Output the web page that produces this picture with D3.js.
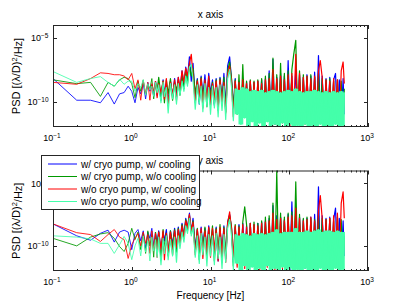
<!DOCTYPE html>
<html>
<head>
<meta charset="utf-8">
<script src="https://cdn.jsdelivr.net/npm/d3@7"></script>
<style>
  body { margin: 0; background: #fff; }
  text { font-family: "Liberation Sans", Arial, sans-serif; fill: #000; }
</style>
</head>
<body>
<div id="viewer"></div>
<script>
// frequency grid (Hz), shared by every series
const freq = [
  0.1, 0.2, 0.3, 0.4, 0.5, 0.6, 0.7, 0.8, 0.9, 1.0,
  1.1, 1.2, 1.3, 1.4, 1.5, 1.6, 1.7, 1.8, 1.9, 2.0,
  2.1, 2.2, 2.35, 2.5, 2.6, 2.75, 2.9, 3.1, 3.3, 3.5,
  3.7, 3.9, 4.1, 4.35, 4.6, 4.85, 5.1, 5.4, 5.7, 6.0,
  6.4, 6.8, 7.2, 7.6, 8.0, 8.5, 9.0, 9.5, 10, 10.6,
  11.2, 11.8, 12.5, 13.2, 14, 14.8, 15.6, 16.5, 17.5, 18.5,
  19.5, 20.6, 21.8, 23, 24.3, 25.7, 27.2, 28.7, 30.3, 32,
  33.8, 35.7, 37.7, 39.9, 42.2, 44.6, 47.1, 49.8, 52.6, 55.6,
  58.8, 62.1, 65.7, 69.4, 73.4, 77.6, 82, 86.7, 91.6, 96.8,
  102, 108, 114, 121, 128, 135, 143, 151, 159, 168,
  178, 188, 199, 210, 222, 235, 248, 262, 277, 293,
  310, 327, 346, 366, 387, 409, 432, 457, 483, 500
];

// log10 of PSD, x axis panel
const xBlue = [
  -8.2, -9.9, -9.9, -10.1, -9.3, -10.2, -9.4, -9.3, -8.8, -9.2,
  -10.1, -8.9, -9.4, -8.6, -9.8, -8.5, -9.2, -8.7, -9.6, -8.4,
  -9.5, -8.5, -9.9, -8.3, -9.3, -8.6, -10.0, -8.4, -9.6, -8.2,
  -9.7, -8.1, -9.2, -7.6, -8.8, -7.3, -8.2, -6.5, -8.4, -7.0,
  -9.8, -8.2, -10.2, -8.0, -9.6, -7.9, -10.0, -7.8, -9.4, -8.3,
  -10.3, -8.2, -10.6, -8.1, -9.8, -7.8, -10.4, -7.2, -6.5, -8.3,
  -10.5, -8.2, -10.9, -8.4, -11.2, -8.3, -10.8, -8.5, -11.5, -8.4,
  -11.0, -8.5, -11.8, -8.4, -11.2, -8.3, -11.6, -8.2, -11.0, -7.6,
  -11.4, -6.7, -11.8, -8.1, -11.3, -7.8, -11.5, -8.0, -11.9, -6.8,
  -11.2, -8.0, -11.6, -7.4, -11.0, -7.9, -11.7, -8.1, -11.3, -7.9,
  -11.8, -8.0, -11.4, -7.7, -11.6, -6.4, -11.2, -8.0, -11.7, -8.2,
  -11.5, -8.1, -11.8, -8.3, -7.8, -11.6, -8.3, -11.4, -8.2, -11.0
];
const xGreen = [
  -8.3, -8.6, -8.5, -9.6, -8.5, -8.8, -8.3, -8.1, -8.2, -8.6,
  -9.7, -8.4, -9.2, -8.3, -9.5, -8.7, -9.0, -8.2, -9.8, -8.5,
  -9.2, -8.1, -9.6, -8.4, -10.1, -8.3, -9.4, -8.2, -9.9, -8.5,
  -9.1, -8.3, -9.5, -8.0, -9.0, -7.5, -8.6, -7.2, -8.0, -7.4,
  -9.4, -8.3, -10.0, -8.1, -9.8, -8.4, -10.4, -8.2, -9.6, -8.5,
  -10.2, -8.3, -10.5, -8.2, -10.0, -8.1, -10.8, -7.6, -6.9, -8.2,
  -10.6, -8.3, -11.0, -7.9, -11.4, -7.1, -10.9, -8.4, -11.6, -8.3,
  -11.1, -8.4, -11.9, -8.3, -11.0, -8.2, -11.7, -8.0, -11.2, -7.8,
  -11.8, -6.6, -11.4, -7.9, -11.9, -7.0, -11.5, -7.8, -11.7, -7.6,
  -11.3, -7.5, -6.3, -5.2, -11.6, -7.6, -11.8, -7.9, -11.2, -8.0,
  -11.7, -7.9, -11.5, -8.1, -11.9, -7.8, -11.3, -8.2, -11.6, -8.3,
  -11.9, -8.2, -11.4, -8.4, -11.7, -8.3, -11.5, -8.4, -11.8, -9.0
];
const xRed = [
  -8.5, -8.65, -8.2, -7.75, -7.8, -7.9, -7.9, -8.0, -8.3, -7.8,
  -9.0, -8.3, -9.9, -8.4, -9.4, -8.5, -9.9, -8.6, -9.2, -8.4,
  -9.7, -8.6, -9.3, -8.4, -9.8, -8.2, -10.2, -8.5, -9.5, -8.3,
  -9.9, -8.1, -9.0, -7.6, -8.5, -7.4, -8.0, -7.0, -6.3, -8.0,
  -10.1, -8.4, -9.7, -8.2, -10.5, -8.3, -9.9, -8.0, -10.3, -8.6,
  -9.8, -8.4, -10.7, -8.3, -10.1, -8.5, -10.9, -7.9, -7.2, -8.5,
  -11.2, -8.4, -10.6, -8.5, -11.5, -8.3, -11.0, -8.6, -11.9, -8.4,
  -11.3, -8.5, -11.7, -8.4, -11.1, -8.6, -11.9, -8.3, -11.4, -8.2,
  -11.6, -7.5, -11.8, -8.2, -11.2, -8.0, -11.7, -8.3, -11.4, -7.9,
  -11.9, -7.8, -11.1, -6.3, -11.6, -7.8, -11.3, -8.1, -11.8, -8.0,
  -11.4, -8.2, -11.7, -8.0, -11.5, -7.6, -6.8, -8.1, -11.8, -8.3,
  -11.2, -8.4, -11.6, -8.2, -11.4, -8.3, -11.9, -7.6, -6.9, -8.6
];
const xMint = [
  -7.65, -8.5, -8.2, -8.05, -8.5, -8.8, -8.25, -8.65, -8.4, -8.4,
  -9.2, -8.6, -8.9, -8.3, -9.5, -8.6, -9.1, -8.8, -9.6, -8.5,
  -9.3, -8.7, -10.1, -8.5, -9.6, -8.9, -10.9, -8.6, -9.8, -8.7,
  -10.2, -8.6, -9.5, -8.4, -9.2, -8.0, -8.8, -7.3, -7.1, -8.3,
  -10.6, -8.7, -10.2, -8.8, -10.8, -8.6, -10.4, -8.9, -11.0, -8.8,
  -10.5, -8.9, -11.2, -8.7, -10.7, -8.8, -11.4, -8.2, -7.5, -8.9,
  -11.5, -9.0, -11.0, -9.1, -11.8, -8.9, -11.3, -9.0, -12.0, -9.2,
  -11.6, -9.1, -12.0, -9.2, -11.7, -9.1, -12.0, -9.3, -11.6, -9.2,
  -12.0, -9.1, -11.8, -9.2, -12.0, -9.3, -11.7, -9.2, -12.0, -9.1,
  -11.8, -9.2, -12.0, -9.0, -11.9, -9.2, -12.0, -9.3, -11.8, -9.2,
  -12.0, -9.2, -11.9, -9.1, -12.0, -9.2, -11.8, -9.3, -12.0, -9.2,
  -11.9, -9.3, -12.0, -9.2, -11.8, -9.3, -12.0, -9.2, -11.9, -9.3
];

// log10 of PSD, y axis panel
const yBlue = [
  -8.25, -9.2, -9.55, -9.0, -8.75, -9.7, -8.9, -8.75, -8.9, -10.3,
  -9.0, -8.7, -9.6, -8.8, -10.2, -8.9, -9.4, -8.6, -10.0, -9.0,
  -9.8, -8.8, -10.4, -8.9, -9.6, -8.7, -10.7, -8.8, -9.9, -8.6,
  -10.3, -8.5, -9.6, -8.2, -9.2, -7.8, -8.6, -7.4, -8.9, -7.8,
  -10.2, -8.7, -10.8, -8.5, -10.1, -8.6, -10.6, -8.4, -10.3, -8.7,
  -10.9, -8.5, -11.2, -8.6, -10.5, -8.4, -11.0, -8.1, -7.5, -8.6,
  -11.3, -8.5, -10.8, -8.3, -11.6, -8.2, -11.1, -8.4, -11.9, -8.2,
  -11.4, -8.3, -11.8, -8.2, -11.2, -8.1, -11.7, -8.0, -11.3, -7.8,
  -11.9, -6.8, -11.5, -7.6, -11.8, -7.7, -11.2, -7.9, -11.6, -7.5,
  -11.9, -6.5, -11.4, -7.2, -11.7, -7.7, -11.3, -7.9, -11.8, -7.8,
  -11.5, -7.7, -11.9, -7.5, -11.4, -5.3, -11.7, -7.6, -11.2, -7.8,
  -11.8, -7.7, -11.5, -7.9, -7.0, -11.6, -7.8, -11.4, -8.0, -10.8
];
const yGreen = [
  -9.4, -10.0, -9.3, -9.05, -8.95, -9.4, -10.05, -10.45, -9.8, -8.6,
  -9.5, -8.9, -10.3, -9.0, -10.6, -8.8, -10.0, -9.1, -10.9, -8.9,
  -10.2, -8.9, -11.0, -8.7, -10.4, -9.0, -10.8, -8.8, -10.1, -8.7,
  -10.5, -8.6, -9.8, -8.3, -9.4, -7.9, -8.8, -7.6, -9.0, -8.0,
  -10.5, -8.6, -11.1, -8.8, -10.3, -8.5, -10.9, -8.6, -10.1, -8.4,
  -11.2, -8.6, -10.6, -8.3, -11.3, -8.5, -10.8, -8.2, -7.6, -8.5,
  -11.6, -8.3, -11.0, -8.4, -11.9, -8.1, -6.9, -8.3, -12.0, -8.2,
  -11.5, -8.1, -11.9, -8.2, -11.3, -8.0, -11.8, -7.7, -11.4, -7.6,
  -11.9, -6.6, -11.6, -4.0, -11.8, -7.4, -11.3, -7.7, -11.9, -7.4,
  -11.5, -7.3, -11.8, -4.9, -11.4, -7.5, -11.7, -7.8, -11.5, -7.7,
  -11.9, -7.8, -11.4, -7.9, -11.7, -7.6, -11.5, -7.8, -11.9, -7.9,
  -11.3, -7.8, -11.7, -8.0, -11.5, -7.7, -11.8, -7.9, -11.6, -9.2
];
const yRed = [
  -8.25, -8.95, -9.1, -9.65, -9.1, -8.7, -9.3, -9.5, -11.0, -9.9,
  -9.4, -9.0, -10.0, -8.9, -9.8, -9.1, -10.6, -8.8, -10.2, -9.0,
  -10.9, -8.9, -10.3, -8.8, -11.1, -9.0, -10.5, -8.9, -10.7, -8.8,
  -10.1, -8.7, -9.9, -8.4, -9.3, -8.0, -8.6, -7.5, -8.8, -8.1,
  -10.7, -8.7, -10.3, -8.6, -11.0, -8.8, -10.5, -8.5, -10.9, -8.6,
  -10.4, -8.7, -11.2, -8.5, -10.7, -8.6, -11.3, -8.2, -7.3, -8.7,
  -11.0, -8.4, -11.7, -8.5, -11.2, -8.3, -11.8, -8.5, -12.0, -8.2,
  -11.6, -8.3, -11.2, -8.4, -11.9, -8.2, -11.4, -8.1, -11.7, -8.0,
  -11.3, -7.4, -11.9, -7.9, -11.5, -7.8, -11.8, -8.0, -11.2, -7.7,
  -11.7, -7.6, -11.4, -7.0, -11.9, -7.8, -11.5, -8.0, -11.3, -7.9,
  -11.8, -7.7, -11.6, -8.0, -11.9, -7.2, -6.0, -7.8, -11.4, -7.9,
  -11.7, -7.8, -11.9, -7.6, -11.5, -7.4, -11.8, -6.6, -5.7, -7.8
];
const yMint = [
  -9.2, -9.3, -9.45, -9.8, -9.8, -10.6, -9.9, -9.25, -9.8, -11.1,
  -10.0, -9.4, -10.8, -9.2, -10.5, -9.6, -11.2, -9.3, -10.4, -9.5,
  -10.9, -9.3, -11.5, -9.4, -10.6, -9.2, -11.1, -9.5, -10.8, -9.3,
  -11.3, -9.2, -10.2, -8.9, -9.7, -8.4, -9.0, -7.8, -9.2, -8.5,
  -10.9, -9.2, -11.4, -9.0, -10.7, -9.3, -11.6, -9.1, -10.8, -9.2,
  -11.5, -9.0, -11.0, -9.3, -11.8, -9.1, -11.3, -8.6, -7.9, -9.2,
  -11.9, -9.1, -11.4, -9.2, -12.0, -9.0, -11.6, -9.1, -12.0, -9.2,
  -11.7, -9.0, -12.0, -9.1, -11.8, -9.0, -12.0, -9.1, -11.6, -9.0,
  -12.0, -8.9, -11.8, -8.7, -12.0, -9.0, -11.7, -8.9, -12.0, -8.9,
  -11.8, -8.9, -12.0, -8.6, -11.9, -8.9, -12.0, -8.9, -11.8, -8.8,
  -12.0, -8.9, -11.9, -8.8, -12.0, -8.7, -11.8, -8.9, -12.0, -8.8,
  -11.9, -8.8, -12.0, -8.9, -11.8, -8.8, -12.0, -8.9, -11.9, -8.9
];

const seriesNames = [
  "w/ cryo pump, w/ cooling",
  "w/ cryo pump, w/o cooling",
  "w/o cryo pump, w/ cooling",
  "w/o cryo pump, w/o cooling"
];
const colors = ["#0000ff", "#009900", "#ff0000", "#44ffaa"];
const xTicks = [0.1, 1, 10, 100, 1000];
const yTicks = [1e-10, 1e-5];

const width = 407, height = 306;

const svg = d3.select("#viewer")
    .append("svg")
    .attr("width", width)
    .attr("height", height);

const xScale = d3.scaleLog()
    .domain([0.1, 1000])
    .range([53, 368]);

const panels = [
    { title: "x axis", top: 25, bottom: 127, data: [xBlue, xGreen, xRed, xMint] },
    { title: "y axis", top: 170.5, bottom: 271, data: [yBlue, yGreen, yRed, yMint] }
];

// minor ticks 2..9 for each decade
const minorTicks = xScale.ticks().filter(t => xTicks.indexOf(t) < 0);

// the last trace (drawn on top) is so dense above ~20 Hz in the original that
// it reads as a solid band: fill between its neighbouring samples there
const splitAt = 19;
const fillFrom = 61;

function expLabel(sel, v) {
    const e = Math.round(Math.log10(v));
    sel.append("tspan").text("10");
    sel.append("tspan")
        .attr("dy", "-0.5em")
        .style("font-size", "6.5px")
        .text(e < 0 ? "\u2212" + (-e) : e);
}

panels.forEach((p, k) => {
    const yScale = d3.scaleLog()
        .domain([1e-12, 1e-4])
        .range([p.bottom, p.top]);
    const yv = v => yScale(Math.pow(10, v));

    const clipId = "clip" + k;
    svg.append("clipPath").attr("id", clipId)
        .append("rect")
        .attr("x", 53).attr("y", p.top)
        .attr("width", 315).attr("height", p.bottom - p.top);

    const line = d3.line()
        .x(d => xScale(d.f))
        .y(d => yv(d.v));

    const g = svg.append("g").attr("clip-path", `url(#${clipId})`);
    p.data.forEach((vals, j) => {
        const pts = vals.map((v, i) => ({ f: freq[i], v: v }));

        if (j === p.data.length - 1) {
            g.append("g").selectAll("rect")
                .data(d3.pairs(pts).slice(fillFrom))
                .enter()
                .append("rect")
                .attr("x", d => xScale(d[0].f) - 0.5)
                .attr("width", d => xScale(d[1].f) - xScale(d[0].f) + 1)
                .attr("y", d => Math.min(yv(d[0].v), yv(d[1].v)))
                .attr("height", d => Math.abs(yv(d[0].v) - yv(d[1].v)))
                .attr("fill", colors[j]);
        }

        g.append("path")
            .datum(pts.slice(0, splitAt + 1))
            .attr("d", line)
            .attr("fill", "none")
            .attr("stroke", colors[j])
            .attr("stroke-width", 1)
            .attr("stroke-opacity", 0.85);
        g.append("path")
            .datum(pts.slice(splitAt))
            .attr("d", line)
            .attr("fill", "none")
            .attr("stroke", colors[j])
            .attr("stroke-width", 1.2)
            .attr("stroke-linejoin", "round");
    });

    // box
    svg.append("rect")
        .attr("x", 53.5).attr("y", p.top + 0.5)
        .attr("width", 314).attr("height", p.bottom - p.top - 1)
        .attr("fill", "none")
        .attr("stroke", "#262626")
        .attr("stroke-width", 1);

    // x ticks, bottom and top, inward
    const ax = svg.append("g").attr("stroke", "#262626").attr("stroke-width", 1);
    xTicks.forEach(t => {
        const x = Math.round(xScale(t)) + 0.5;
        ax.append("line").attr("x1", x).attr("x2", x).attr("y1", p.bottom).attr("y2", p.bottom - 4);
        ax.append("line").attr("x1", x).attr("x2", x).attr("y1", p.top).attr("y2", p.top + 4);
    });
    minorTicks.forEach(t => {
        const x = Math.round(xScale(t)) + 0.5;
        ax.append("line").attr("x1", x).attr("x2", x).attr("y1", p.bottom).attr("y2", p.bottom - 2);
        ax.append("line").attr("x1", x).attr("x2", x).attr("y1", p.top).attr("y2", p.top + 2);
    });
    yTicks.forEach(t => {
        const y = Math.round(yScale(t)) + 0.5;
        ax.append("line").attr("x1", 53).attr("x2", 57).attr("y1", y).attr("y2", y);
        ax.append("line").attr("x1", 368).attr("x2", 364).attr("y1", y).attr("y2", y);
    });

    // tick labels
    xTicks.forEach(t => {
        const tx = svg.append("text")
            .attr("x", xScale(t) - 1)
            .attr("y", p.bottom + 14)
            .attr("text-anchor", "middle")
            .style("font-size", "9px");
        expLabel(tx, t);
    });
    yTicks.forEach(t => {
        const ty = svg.append("text")
            .attr("x", 48.5)
            .attr("y", yScale(t) + 3.5)
            .attr("text-anchor", "end")
            .style("font-size", "9px");
        expLabel(ty, t);
    });

    svg.append("text")
        .attr("x", 210.5)
        .attr("y", p.top - 7)
        .attr("text-anchor", "middle")
        .style("font-size", "10px")
        .text(p.title);

    const yl = svg.append("text")
        .attr("transform", `translate(20,${(p.top + p.bottom) / 2}) rotate(-90)`)
        .attr("text-anchor", "middle")
        .style("font-size", "11px");
    yl.append("tspan").text("PSD [(\u03bb/D)");
    yl.append("tspan").attr("dy", "-0.45em").style("font-size", "7.5px").text("2");
    yl.append("tspan").attr("dy", "0.45em").text("/Hz]");
});

svg.append("text")
    .attr("x", 210.5)
    .attr("y", 299)
    .attr("text-anchor", "middle")
    .style("font-size", "10px")
    .text("Frequency [Hz]");

// legend
const leg = svg.append("g");
leg.append("rect")
    .attr("x", 41.5).attr("y", 155.5)
    .attr("width", 158).attr("height", 54)
    .attr("fill", "#fff")
    .attr("stroke", "#262626");
seriesNames.forEach((name, j) => {
    const y = 164 + j * 12.5;
    leg.append("line")
        .attr("x1", 48).attr("x2", 77)
        .attr("y1", y).attr("y2", y)
        .attr("stroke", colors[j]);
    leg.append("text")
        .attr("x", 81).attr("y", y + 3.5)
        .style("font-size", "10px")
        .text(name);
});
</script>
</body>
</html>
